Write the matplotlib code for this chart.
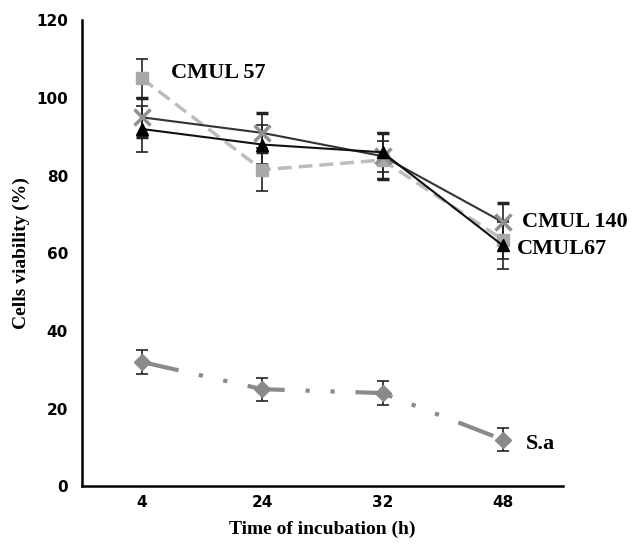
import matplotlib.pyplot as plt

# time points (categorical x axis)
hours = ["4", "24", "32", "48"]

cmul57 = [105, 81.5, 84, 63.5]
cmul57_err = [5, 5.5, 5, 5]
cmul67 = [92, 88, 86, 62]
cmul67_err = [6, 5, 5, 6]
cmul140 = [95, 91, 85, 68]
cmul140_err = [5, 5, 6, 5]
sa = [32, 25, 24, 12]
sa_err = [3, 3, 3, 3]

x = range(len(hours))

fig = plt.figure(figsize=(6.34, 5.47), dpi=100)
ax = fig.add_axes([0.129, 0.111, 0.759, 0.852])

err_kw = dict(ecolor="#222222", elinewidth=1.2, capsize=4, capthick=1.2)

ax.errorbar(x, cmul57, yerr=cmul57_err, color="#bdbdbd", ls=(0, (4, 2)), lw=2.5,
            marker="s", ms=8, mfc="#a8a8a8", mec="#a8a8a8", **err_kw)
ax.errorbar(x, cmul140, yerr=cmul140_err, color="#333333", lw=1.5,
            marker="x", ms=11, mew=2.5, mec="#909090", **err_kw)
ax.errorbar(x, cmul67, yerr=cmul67_err, color="#111111", lw=1.5,
            marker="^", ms=8, mfc="black", mec="black", **err_kw)
ax.errorbar(x, sa, yerr=sa_err, color="#8a8a8a", ls=(0, (9, 5, 1, 5, 1, 5)), lw=3,
            marker="D", ms=8, mfc="#8a8a8a", mec="#8a8a8a", **err_kw)

lab = dict(family="Liberation Serif", fontweight="bold", fontsize=16)
ax.text(0.24, 106.5, "CMUL 57", va="center", **lab)
ax.text(3.16, 68, "CMUL 140", va="center", **lab)
ax.text(3.12, 61, "CMUL67", va="center", **lab)
ax.text(3.19, 11, "S.a", va="center", **lab)

ax.set_xlim(-0.5, 3.5)
ax.set_ylim(0, 120)
ax.set_xticks(list(x))
ax.set_xticklabels(hours)
ax.set_yticks(range(0, 121, 20))
ax.tick_params(length=0, labelsize=11)
ax.tick_params(axis="x", pad=6)
ax.tick_params(axis="y", pad=10)
for t in ax.get_xticklabels() + ax.get_yticklabels():
    t.set_fontweight("bold")

ax.spines["top"].set_visible(False)
ax.spines["right"].set_visible(False)
ax.spines["left"].set_linewidth(1.8)
ax.spines["bottom"].set_linewidth(1.8)

ax.set_xlabel("Time of incubation (h)", family="Liberation Serif",
              fontweight="bold", fontsize=14, labelpad=8)
ax.set_ylabel("Cells viability (%)", family="Liberation Serif",
              fontweight="bold", fontsize=14, labelpad=4)

fig.savefig("out.png", dpi=100)
